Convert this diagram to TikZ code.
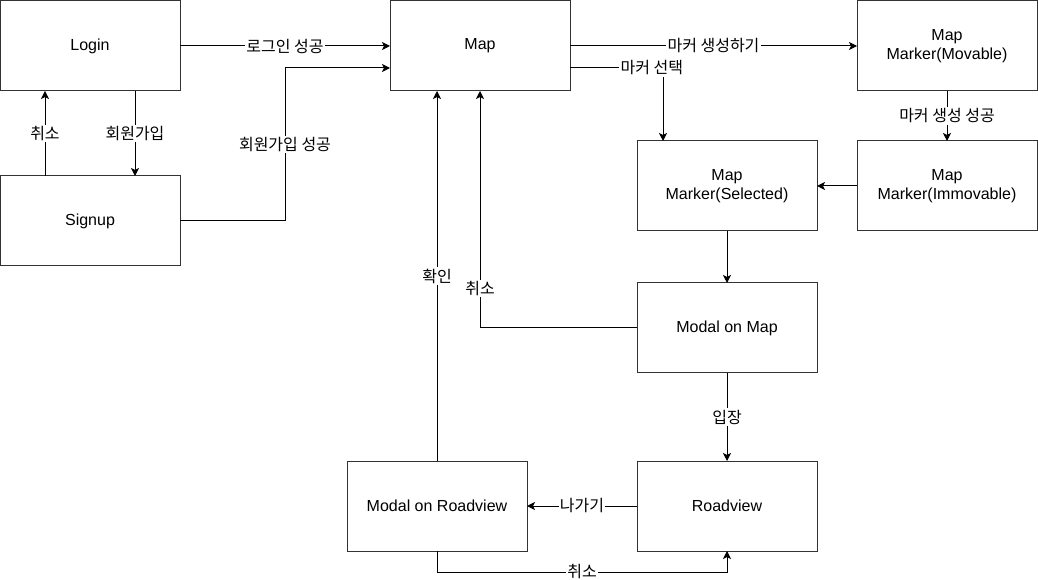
\documentclass[tikz,border=0pt]{standalone}
\usepackage{fontspec}
\setmainfont{Liberation Sans}
\newfontfamily\kr{Noto Sans CJK KR}
\usetikzlibrary{positioning,arrows.meta,calc}

\begin{document}
\begin{tikzpicture}[
        x=0.75pt, y=-0.75pt,
        font=\fontsize{12}{14.4}\selectfont,
        box/.style={rectangle, draw=black!80, line width=0.75pt, outer sep=0pt, minimum width=135pt, minimum height=67.5pt, align=center},
        arr/.style={-{Stealth[length=6pt, width=6pt, inset=1.5pt]}, line width=0.75pt},
        lbl/.style={fill=white, inner sep=1pt, font=\kr\fontsize{12}{14.4}\selectfont},
    ]
    \useasboundingbox (0,0) rectangle (1038,580);

    % === login / signup ===
    \node[box] (login) at (90,46) {Login};
    \node[box, below=63.75pt of login] (signup) {Signup};

    % === map + markers ===
    \node[box, right=157.5pt of login] (map) {Map};
    \node[box, right=215.25pt of map] (movable) {Map\\Marker(Movable)};
    \node[box, below=37.5pt of movable] (immovable) {Map\\Marker(Immovable)};
    \node[box, left=30pt of immovable] (selected) {Map\\Marker(Selected)};

    % === modals / roadview ===
    \node[box, below=39pt of selected] (modalmap) {Modal on Map};
    \node[box, below=66pt of modalmap] (roadview) {Roadview};
    \node[box, left=82.5pt of roadview] (modalroad) {Modal on Roadview};

    \draw[arr] (login) -- node[lbl] {로그인 성공} (map);
    \draw[arr] ($(login.south)+(45,0)$) -- node[lbl] {회원가입} ($(signup.north)+(45,0)$);
    \draw[arr] ($(signup.north)+(-45,0)$) -- node[lbl] {취소} ($(login.south)+(-45,0)$);
    \draw[arr] (signup.east) -- ++(105,0) |- node[lbl, pos=0.25] {회원가입 성공} ($(map.west)+(0,22)$);

    \draw[arr] (map) -- node[lbl] {마커 생성하기} (movable);
    \draw[arr] ($(map.east)+(0,22)$) -| node[lbl, pos=0.44] {마커 선택} ($(selected.north)+(-64,0)$);
    \draw[arr] (movable) -- node[lbl] {마커 생성 성공} (immovable);
    \draw[arr] (immovable) -- (selected);
    \draw[arr] (selected) -- (modalmap);

    \draw[arr] (modalmap.west) -| node[lbl, pos=0.584] {취소} (map.south);
    \draw[arr] (modalmap) -- node[lbl] {입장} (roadview);
    \draw[arr] (roadview) -- node[lbl] {나가기} (modalroad);
    \draw[arr] (modalroad.south) -- ++(0,21) -| node[lbl, pos=0.25] {취소} (roadview.south);
    \draw[arr] (modalroad.north) -- node[lbl] {확인} ($(map.south)+(-43,0)$);

\end{tikzpicture}
\end{document}
